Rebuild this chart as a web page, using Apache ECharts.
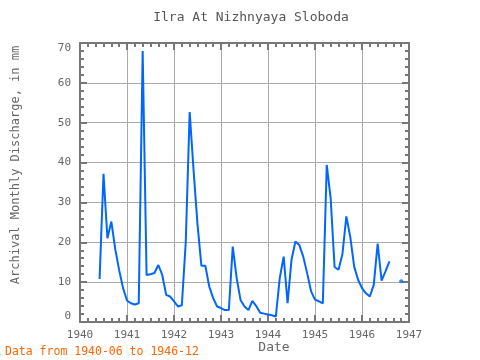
<!DOCTYPE html>
<html>
<head>
<meta charset="utf-8">
<title>Ilra At Nizhnyaya Sloboda</title>
<script src="https://cdn.jsdelivr.net/npm/echarts@6/dist/echarts.min.js"></script>
<style>
  html, body { margin: 0; padding: 0; background: #fff; }
  #chart { width: 480px; height: 360px; }
</style>
</head>
<body>
<div id="chart"></div>
<script>
// monthly discharge, mm (null = no data)
const months = [
  '1940-06', '1940-07', '1940-08', '1940-09', '1940-10', '1940-11', '1940-12',
  '1941-01', '1941-02', '1941-03', '1941-04', '1941-05', '1941-06',
  '1941-07', '1941-08', '1941-09', '1941-10', '1941-11', '1941-12',
  '1942-01', '1942-02', '1942-03', '1942-04', '1942-05', '1942-06',
  '1942-07', '1942-08', '1942-09', '1942-10', '1942-11', '1942-12',
  '1943-01', '1943-02', '1943-03', '1943-04', '1943-05', '1943-06',
  '1943-07', '1943-08', '1943-09', '1943-10', '1943-11', '1943-12',
  '1944-01', '1944-02', '1944-03', '1944-04', '1944-05', '1944-06',
  '1944-07', '1944-08', '1944-09', '1944-10', '1944-11', '1944-12',
  '1945-01', '1945-02', '1945-03', '1945-04', '1945-05', '1945-06',
  '1945-07', '1945-08', '1945-09', '1945-10', '1945-11', '1945-12',
  '1946-01', '1946-02', '1946-03', '1946-04', '1946-05', '1946-06',
  '1946-07', '1946-08', '1946-09', '1946-10', '1946-11', '1946-12'
]
const discharge = [
  10.8, 37.2, 21, 25.2, 18.3, 13, 8.5,
  5.4, 4.7, 4.4, 4.7, 68, 11.8,
  12, 12.3, 14.3, 11.8, 6.8, 6.4,
  5.2, 3.9, 4.2, 20, 52.7, 38,
  24.5, 14.1, 14.1, 8.9, 6, 3.9,
  3.5, 3.0, 3.0, 18.9, 11, 5.5,
  3.9, 3.0, 5.3, 4, 2.3, 2.1,
  1.9, 1.7, 1.4, 11, 16.4, 4.7,
  15.6, 20.2, 19.3, 16.4, 12.2, 7.7,
  5.6, 5.2, 4.7, 39.4, 31, 13.8,
  13.1, 17, 26.5, 21.4, 13.9, 10.6,
  8.5, 7.2, 6.4, 9.3, 19.7, 10.4,
  12.7, 15.2, null, null, 10.2, null
]
const yearTicks = [1940, 1941, 1942, 1943, 1944, 1945, 1946, 1947]

function toYear(m) {
  const p = m.split('-')
  return +p[0] + (+p[1] - 1) / 12
}

const lineData = months.map((m, i) => [toYear(m), discharge[i]])
// points with no neighbours get drawn as dots
const lonely = lineData.filter((d, i) =>
  d[1] != null && discharge[i - 1] == null && discharge[i + 1] == null)

const font = 'DejaVu Sans Mono'
const frame = '#777'

const xBase = {
  type: 'value',
  min: yearTicks[0],
  max: yearTicks[yearTicks.length - 1],
  interval: 1,
  axisLine: { show: true, onZero: false, lineStyle: { color: frame, width: 2 } },
  axisTick: { show: true, inside: true, length: 7, lineStyle: { color: frame, width: 2 } },
  minorTick: { show: true, splitNumber: 6, length: 4, lineStyle: { color: frame, width: 2 } },
  splitLine: { show: false }
}
const yBase = {
  type: 'value',
  min: 0,
  max: 70,
  interval: 10,
  axisLine: { show: true, onZero: false, lineStyle: { color: frame, width: 2 } },
  axisTick: { show: true, inside: true, length: 7, lineStyle: { color: frame, width: 2 } },
  minorTick: { show: true, splitNumber: 5, length: 4, lineStyle: { color: frame, width: 2 } },
  splitLine: { show: false }
}

const chart = echarts.init(document.getElementById('chart'))
chart.setOption({
  animation: false,
  backgroundColor: '#fff',
  grid: { left: 80, right: 71, top: 43, bottom: 38 },
  xAxis: [
    Object.assign({}, xBase, {
      position: 'bottom',
      splitLine: { show: true, lineStyle: { color: '#aaa', width: 1 } },
      axisLabel: {
        color: '#666', fontFamily: font, fontSize: 11, margin: 8,
        formatter: v => String(v)
      }
    }),
    Object.assign({}, xBase, { position: 'top', axisLabel: { show: false } })
  ],
  yAxis: [
    Object.assign({}, yBase, {
      position: 'left',
      splitLine: { show: true, lineStyle: { color: '#aaa', width: 1 } },
      axisLabel: {
        color: '#666', fontFamily: font, fontSize: 11, margin: 9,
        verticalAlignMinLabel: 'bottom',
        verticalAlignMaxLabel: 'top'
      }
    }),
    Object.assign({}, yBase, { position: 'right', axisLabel: { show: false } })
  ],
  series: [
    {
      type: 'line',
      data: lineData,
      showSymbol: false,
      connectNulls: false,
      lineStyle: { color: '#0066ff', width: 2 },
      itemStyle: { color: '#0066ff' }
    },
    {
      type: 'scatter',
      data: lonely,
      symbol: 'circle',
      symbolSize: 4,
      itemStyle: { color: '#0066ff' }
    }
  ],
  graphic: [
    {
      type: 'text', x: 251, y: 18,
      style: {
        text: 'Ilra At Nizhnyaya Sloboda', fill: '#555',
        font: '13px "DejaVu Sans Mono"', align: 'center', verticalAlign: 'middle'
      }
    },
    {
      type: 'text', x: 16, y: 165, rotation: Math.PI / 2,
      style: {
        text: 'Archival Monthly Discharge, in mm', fill: '#666',
        font: '12px "DejaVu Sans Mono"', align: 'center', verticalAlign: 'middle'
      }
    },
    {
      type: 'text', x: 274, y: 348,
      style: {
        text: 'Date', fill: '#666', font: '13px "DejaVu Sans Mono"',
        align: 'center', verticalAlign: 'middle'
      }
    },
    {
      type: 'text', x: 5, y: 352,
      style: {
        text: 'Data from 1940-06 to 1946-12', fill: '#ff6600',
        font: '11.5px "DejaVu Sans Mono"', align: 'left', verticalAlign: 'middle'
      }
    }
  ]
})
</script>
</body>
</html>
